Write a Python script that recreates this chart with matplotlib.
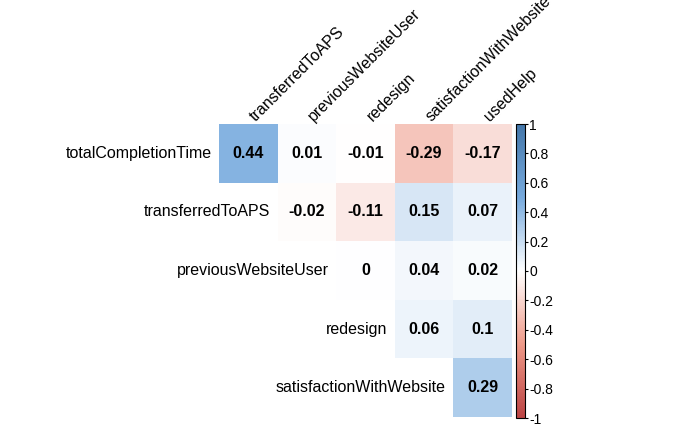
import numpy as np
import matplotlib
matplotlib.use("Agg")
import matplotlib.pyplot as plt
from matplotlib.colors import LinearSegmentedColormap
import matplotlib.cm as cm

# data: upper triangle of the correlation matrix (diagonal dropped)
row_labels = ["totalCompletionTime", "transferredToAPS", "previousWebsiteUser",
              "redesign", "satisfactionWithWebsite"]
col_labels = ["transferredToAPS", "previousWebsiteUser", "redesign",
              "satisfactionWithWebsite", "usedHelp"]
corr = [
    [0.44, 0.01, -0.01, -0.29, -0.17],
    [None, -0.02, -0.11, 0.15, 0.07],
    [None, None, 0.00, 0.04, 0.02],
    [None, None, None, 0.06, 0.10],
    [None, None, None, None, 0.29],
]
bar_ticks = [-1, -0.8, -0.6, -0.4, -0.2, 0, 0.2, 0.4, 0.6, 0.8, 1]

palette = ["#BB4444", "#EE9988", "#FFFFFF", "#77AADD", "#4477AA"]
cmap = LinearSegmentedColormap.from_list("corr", palette, N=200)

plt.rcParams["font.family"] = ["Liberation Sans", "DejaVu Sans"]
FS = 11.5

W, H = 700, 432
fig = plt.figure(figsize=(W / 100, H / 100), dpi=100, facecolor="white")

# grid region in pixels
gx0, gx1, gy0, gy1 = 219, 512, 124, 417
ax = fig.add_axes([gx0 / W, 1 - gy1 / H, (gx1 - gx0) / W, (gy1 - gy0) / H])
ax.set_axis_off()

n_rows, n_cols = len(row_labels), len(col_labels)
mat = np.array([[np.nan if v is None else v for v in r] for r in corr], dtype=float)
ax.pcolormesh(np.arange(n_cols + 1), np.arange(n_rows + 1),
              np.ma.masked_invalid(mat), cmap=cmap, vmin=-1, vmax=1)
ax.set_xlim(0, n_cols)
ax.set_ylim(n_rows, 0)

for i in range(n_rows):
    for j in range(n_cols):
        v = corr[i][j]
        if v is None:
            continue
        txt = "0" if v == 0 else f"{v:g}"
        ax.text(j + 0.5, i + 0.5, txt, ha="center", va="center",
                fontsize=FS, fontweight="bold", color="black")
    # row label just left of the first cell in the row
    ax.text(i - 0.13, i + 0.5, row_labels[i], ha="right", va="center",
            fontsize=FS, color="black", clip_on=False)

for j, lab in enumerate(col_labels):
    ax.text(j + 0.66, 0.0, lab, ha="left", va="bottom", rotation=45,
            rotation_mode="anchor", fontsize=FS, color="black", clip_on=False)

# colour legend
cax = fig.add_axes([516 / W, 1 - 418 / H, 9 / W, 294 / H])
sm = cm.ScalarMappable(cmap=cmap, norm=plt.Normalize(-1, 1))
cb = fig.colorbar(sm, cax=cax)
cb.outline.set_linewidth(0.8)
cb.set_ticks(bar_ticks)
cb.set_ticklabels(["0" if t == 0 else f"{t:g}" for t in bar_ticks])
cax.tick_params(length=2, width=0.8, pad=1, labelsize=10, direction="out")

fig.savefig("out.png", dpi=100)
